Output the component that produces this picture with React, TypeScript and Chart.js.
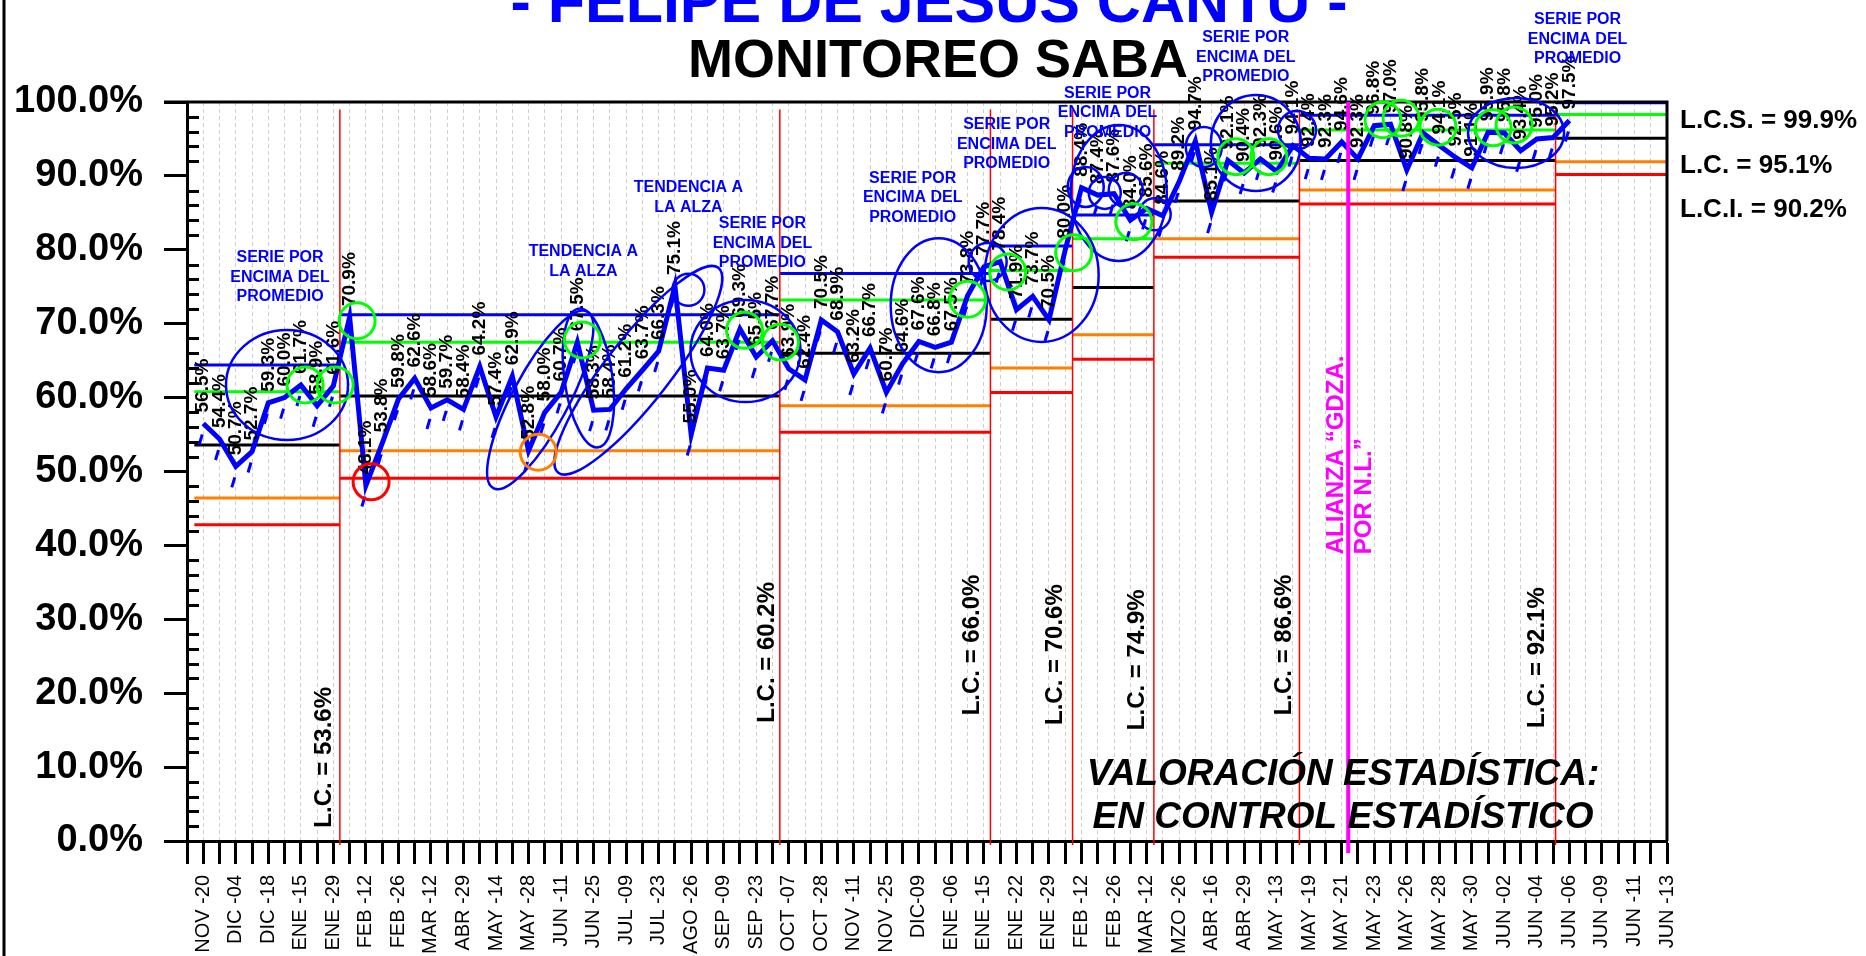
import React, { useEffect, useRef } from 'react';
import { Chart, registerables } from 'chart.js';

Chart.register(...registerables);

const FONT = '"Liberation Sans", Arial, Helvetica, sans-serif';

// x tick labels (one every other category)
const tickLabels = ['NOV -20', 'DIC -04', 'DIC -18', 'ENE -15', 'ENE -29', 'FEB -12', 'FEB -26', 'MAR -12', 'ABR -29', 'MAY -14', 'MAY -28', 'JUN -11', 'JUN -25', 'JUL -09', 'JUL -23', 'AGO -26', 'SEP -09', 'SEP -23', 'OCT -07', 'OCT -28', 'NOV -11', 'NOV -25', 'DIC-09', 'ENE -06', 'ENE -15', 'ENE -22', 'ENE -29', 'FEB -12', 'FEB -26', 'MAR -12', 'MZO -26', 'ABR -16', 'ABR -29', 'MAY -13', 'MAY -19', 'MAY -21', 'MAY -23', 'MAY -26', 'MAY -28', 'MAY -30', 'JUN -02', 'JUN -04', 'JUN -06', 'JUN -09', 'JUN -11', 'JUN -13'];

// SABA series (%)
const saba = [
  56.5, 54.4, 50.7, 52.7, 59.3, 60.0, 61.7, 58.9, 61.6,
  70.9, 48.1, 53.8, 59.8, 62.6, 58.6, 59.7, 58.4, 64.2, 57.4, 62.9, 52.8, 58.0, 60.7, 67.5, 58.3, 58.4, 61.2, 63.7, 66.3, 75.1, 55.0, 64.0, 63.7, 69.3, 65.5, 67.7,
  63.9, 62.4, 70.5, 68.9, 63.2, 66.7, 60.7, 64.6, 67.6, 66.8, 67.5, 73.8, 77.7,
  78.4, 71.9, 73.7, 70.5, 80.0,
  88.4, 87.4, 87.6, 84.0, 85.6,
  84.6, 89.2, 94.7, 85.1, 92.1, 90.4, 92.3, 90.6, 94.1,
  92.4, 92.3, 94.6, 92.3, 96.8, 97.0, 90.8, 95.8, 94.1, 92.5, 91.1, 95.9, 95.8, 93.4, 95.0, 95.2,
  97.5,
];

// control-limit segments (category positions)
const segStart = [0.45, 9.4, 36.45, 49.4, 54.45, 59.45, 68.4, 84.15];
const segEnd = [9.4, 36.45, 49.4, 54.45, 59.45, 68.4, 84.15, 91];
const lcsVals = [64.4, 71.2, 76.8, 80.5, 84.7, 94.2, 98.2, 99.9];
const up2Vals = [60.8, 67.5, 73.2, 77.2, 81.5, 91.7, 96.2, 98.3];
const lcVals = [53.6, 60.2, 66.0, 70.6, 74.9, 86.6, 92.1, 95.1];
const dn2Vals = [46.4, 52.8, 58.9, 64.0, 68.5, 81.5, 88.1, 91.9];
const lciVals = [42.8, 49.1, 55.3, 60.7, 65.2, 79.0, 86.2, 90.2];

// L.C. vertical labels (segments 1..7)
const lcLabelPos = [8.43, 35.7, 48.3, 53.4, 58.46, 67.45, 83.0];
const lcLabelBase = [1.8, 16.0, 17.0, 15.7, 15.0, 17.0, 15.3];

const allianceIdx = 71.4;

// annotations: [category, value, rx, ry, rotationDeg]
const blueRings = [
  [6.15, 61.7, 61, 55, 0], [21.72, 59.7, 100, 28, -62], [24.68, 62.65, 24, 70, -8], [27.75, 63.7, 130, 32, -52],
  [30.83, 74.6, 16, 16, 0], [34.34, 66.3, 55, 51, 0], [46.22, 72.5, 48, 67, 0], [49.23, 78.35, 19, 19, 0],
  [52.55, 76.6, 57, 67, 0], [57.29, 87.7, 48, 68, 0], [55.26, 88.5, 18, 20, 0], [56.43, 87.7, 16, 16, 0],
  [57.72, 88.1, 17, 17, 0], [59.5, 84.8, 16, 16, 0], [62.52, 93.9, 18, 20, 0], [65.72, 94.45, 45, 48, 0],
  [68.25, 96.2, 19, 19, 0], [81.72, 95.8, 48, 35, 0],
];
const greenRings = [
  [7.26, 61.7], [9.11, 61.7], [10.46, 70.4], [24.31, 67.8], [34.28, 69.1], [36.49, 67.5], [48.0, 73.3],
  [50.46, 77.0], [54.52, 79.6], [58.22, 83.8], [64.49, 92.6], [66.52, 92.6], [73.54, 97.6], [74.65, 97.8],
  [76.92, 96.6], [80.31, 96.5], [81.6, 96.9],
];
const orangeRings = [[21.6, 52.6]];
const redRings = [[11.32, 48.6]];

const SERIE = ['SERIE POR', 'ENCIMA DEL', 'PROMEDIO'];
const TEND = ['TENDENCIA A', 'LA ALZA'];
const blueNotes: [number, number, string[]][] = [
  [5.72, 78.9, SERIE], [24.37, 79.7, TEND], [30.83, 88.4, TEND], [35.38, 83.5, SERIE], [44.62, 89.7, SERIE],
  [50.4, 96.9, SERIE], [56.6, 101.2, SERIE], [65.1, 108.7, SERIE], [85.5, 111.1, SERIE],
];

function vText(ctx: CanvasRenderingContext2D, text: string, x: number, y: number, font: string, color: string) {
  ctx.save();
  ctx.translate(x, y);
  ctx.rotate(-Math.PI / 2);
  ctx.font = font;
  ctx.fillStyle = color;
  ctx.textAlign = 'left';
  ctx.textBaseline = 'middle';
  ctx.fillText(text, 0, 0);
  ctx.restore();
}

const overlay = {
  id: 'overlay',
  beforeDatasetsDraw(chart: any) {
    const { ctx, chartArea } = chart;
    const xs = chart.scales.x;
    const ys = chart.scales.y;
    ctx.save();
    // minor y ticks (inside)
    ctx.strokeStyle = '#000';
    ctx.lineWidth = 3;
    for (let v = 2; v < 100; v += 2) {
      if (v % 10 === 0) continue;
      const py = Math.round(ys.getPixelForValue(v)) + 0.5;
      ctx.beginPath();
      ctx.moveTo(chartArea.left, py);
      ctx.lineTo(chartArea.left + 12, py);
      ctx.stroke();
    }
    // control limit lines
    const groups: [number[], string][] = [
      [lcsVals, '#0000FF'], [up2Vals, '#00FF00'], [lcVals, '#000000'], [dn2Vals, '#FF8000'], [lciVals, '#FF0000'],
    ];
    ctx.lineWidth = 3;
    for (const [arr, col] of groups) {
      ctx.strokeStyle = col;
      for (let i = 0; i < arr.length; i++) {
        const py = ys.getPixelForValue(arr[i]);
        ctx.beginPath();
        ctx.moveTo(xs.getPixelForValue(segStart[i]), py);
        ctx.lineTo(xs.getPixelForValue(segEnd[i]), py);
        ctx.stroke();
      }
    }
    // red separators
    ctx.strokeStyle = '#FF0000';
    ctx.lineWidth = 1.5;
    for (let i = 1; i < segStart.length; i++) {
      const px = xs.getPixelForValue(segStart[i]);
      ctx.beginPath();
      ctx.moveTo(px, ys.getPixelForValue(99));
      ctx.lineTo(px, chartArea.bottom + 4);
      ctx.stroke();
    }
    ctx.restore();
  },
  afterDatasetsDraw(chart: any) {
    const { ctx, chartArea } = chart;
    const xs = chart.scales.x;
    const ys = chart.scales.y;
    const meta = chart.getDatasetMeta(0);
    ctx.save();
    // small blue strokes below points and value labels
    meta.data.forEach((el: any, i: number) => {
      const v = chart.data.datasets[0].data[i];
      if (v === null || v === undefined) return;
      ctx.strokeStyle = '#0000FF';
      ctx.lineWidth = 3;
      ctx.beginPath();
      ctx.moveTo(el.x - 1, el.y + 11);
      ctx.lineTo(el.x - 4, el.y + 21);
      ctx.stroke();
      vText(ctx, v.toFixed(1) + '%', el.x, el.y - 11, 'bold 19px ' + FONT, '#000');
    });
    // top and right frame
    ctx.strokeStyle = '#000';
    ctx.lineWidth = 3;
    ctx.beginPath();
    ctx.moveTo(chartArea.left - 23, chartArea.top);
    ctx.lineTo(chartArea.right, chartArea.top);
    ctx.lineTo(chartArea.right, chartArea.bottom);
    ctx.stroke();
    // outer left edge
    ctx.beginPath();
    ctx.moveTo(4, 0);
    ctx.lineTo(4, chart.height);
    ctx.stroke();
    // magenta alliance line
    const mx = xs.getPixelForValue(allianceIdx);
    ctx.strokeStyle = '#FF00FF';
    ctx.lineWidth = 4;
    ctx.beginPath();
    ctx.moveTo(mx, chartArea.top);
    ctx.lineTo(mx, chartArea.bottom + 12);
    ctx.stroke();
    vText(ctx, 'ALIANZA \u201CGDZA.', xs.getPixelForValue(70.65), ys.getPixelForValue(38.8), 'bold 24px ' + FONT, '#FF00FF');
    vText(ctx, 'POR N.L.\u201D', xs.getPixelForValue(72.37), ys.getPixelForValue(38.8), 'bold 24px ' + FONT, '#FF00FF');
    // L.C. labels
    for (let i = 0; i < lcLabelPos.length; i++) {
      vText(ctx, 'L.C. = ' + lcVals[i].toFixed(1) + '%', xs.getPixelForValue(lcLabelPos[i]), ys.getPixelForValue(lcLabelBase[i]), 'bold 24px ' + FONT, '#000');
    }
    // rings
    const ring = (list: number[][], color: string, width: number, defR: number) => {
      ctx.strokeStyle = color;
      ctx.lineWidth = width;
      for (const r of list) {
        const rx = r.length > 2 ? r[2] : defR;
        const ry = r.length > 3 ? r[3] : defR;
        const rot = r.length > 4 ? (r[4] * Math.PI) / 180 : 0;
        ctx.beginPath();
        ctx.ellipse(xs.getPixelForValue(r[0]), ys.getPixelForValue(r[1]), rx, ry, rot, 0, Math.PI * 2);
        ctx.stroke();
      }
    };
    ring(blueRings, '#0000FF', 2.5, 18);
    ring(greenRings, '#00FF00', 3, 18);
    ring(orangeRings, '#FF8000', 3, 18);
    ring(redRings, '#FF0000', 3, 18);
    // blue notes
    ctx.fillStyle = '#0000FF';
    ctx.font = 'bold 16px ' + FONT;
    ctx.textAlign = 'center';
    ctx.textBaseline = 'middle';
    for (const [ci, vv, lines] of blueNotes) {
      const cx = xs.getPixelForValue(ci);
      const cy = ys.getPixelForValue(vv);
      lines.forEach((t, k) => ctx.fillText(t, cx, cy + k * 19.5));
    }
    // evaluation text
    ctx.fillStyle = '#000';
    ctx.font = 'italic bold 37px ' + FONT;
    ctx.textAlign = 'center';
    ctx.textBaseline = 'alphabetic';
    const ex = xs.getPixelForValue(71.08);
    ctx.fillText('VALORACI\u00D3N ESTAD\u00CDSTICA:', ex, ys.getPixelForValue(7.58));
    ctx.fillText('EN CONTROL ESTAD\u00CDSTICO', ex, ys.getPixelForValue(1.76));
    // right side limits
    ctx.font = 'bold 26px ' + FONT;
    ctx.textAlign = 'left';
    const rx0 = chartArea.right + 13;
    ctx.fillText('L.C.S. = ' + lcsVals[7].toFixed(1) + '%', rx0, 128);
    ctx.fillText('L.C. = ' + lcVals[7].toFixed(1) + '%', rx0, 173);
    ctx.fillText('L.C.I. = ' + lciVals[7].toFixed(1) + '%', rx0, 217);
    // titles
    ctx.textAlign = 'center';
    ctx.fillStyle = '#0000FF';
    ctx.font = 'bold 61px ' + FONT;
    ctx.fillText('- FELIPE DE JESUS CANTU -', 929, 22);
    ctx.fillStyle = '#000';
    ctx.font = 'bold 54px ' + FONT;
    ctx.fillText('MONITOREO SABA', 938, 77);
    ctx.restore();
  },
};

export default function App() {
  const ref = useRef<HTMLCanvasElement>(null);
  useEffect(() => {
    document.body.style.margin = '0';
    const canvas = ref.current;
    if (!canvas) return;
    const labels: string[] = [''];
    tickLabels.forEach((t, k) => {
      labels.push(t);
      if (k < tickLabels.length - 1) labels.push('');
    });
    const series: (number | null)[] = [null, ...saba];
    while (series.length < labels.length) series.push(null);

    const chart = new Chart(canvas, {
      type: 'line',
      data: {
        labels,
        datasets: [
          {
            data: series,
            borderColor: '#0000FF',
            borderWidth: 5,
            pointRadius: 0,
            pointHoverRadius: 0,
            fill: false,
            tension: 0,
            spanGaps: false,
          },
        ],
      },
      options: {
        responsive: false,
        animation: false,
        events: [],
        layout: { padding: { left: 0, top: 102, right: 199, bottom: 0 } },
        plugins: { legend: { display: false }, tooltip: { enabled: false }, title: { display: false } },
        scales: {
          x: {
            type: 'category',
            offset: false,
            grid: {
              display: true,
              drawOnChartArea: true,
              color: '#cfcfcf',
              lineWidth: 1,
              drawTicks: true,
              tickLength: 23,
              tickColor: '#000',
              tickWidth: 3,
              tickBorderDash: [],
            },
            border: { display: true, color: '#000', width: 3, dash: [4, 3] },
            ticks: {
              autoSkip: false,
              maxRotation: 90,
              minRotation: 90,
              padding: 11,
              color: '#000',
              font: { family: FONT, size: 20 },
            },
            afterFit: (s: any) => {
              s.height = 115;
            },
          },
          y: {
            min: 0,
            max: 100,
            grid: { drawOnChartArea: false, drawTicks: true, tickLength: 23, tickColor: '#000', tickWidth: 3 },
            border: { display: true, color: '#000', width: 3 },
            ticks: {
              stepSize: 10,
              padding: 21,
              color: '#000',
              font: { family: FONT, size: 38, weight: 'bold' },
              callback: (v: any) => Number(v).toFixed(1) + '%',
            },
            afterFit: (s: any) => {
              s.width = 187;
            },
          },
        },
      } as any,
      plugins: [overlay],
    });
    return () => chart.destroy();
  }, []);
  return (
    <div style={{ position: 'absolute', left: 0, top: 0, width: 1866, height: 956, background: '#fff' }}>
      <canvas ref={ref} width={1866} height={956} style={{ display: 'block', width: 1866, height: 956 }} />
    </div>
  );
}
